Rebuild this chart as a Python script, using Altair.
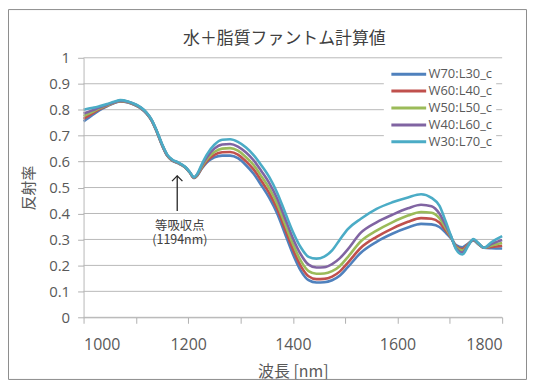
import altair as alt
import pandas as pd

wavelengths = [1000, 1010, 1020, 1030, 1045, 1060, 1070, 1085, 1100, 1110, 1120, 1130, 1140, 1150,
               1160, 1170, 1180, 1194, 1203, 1211, 1218, 1226, 1235, 1250, 1265, 1280, 1295, 1310,
               1325, 1340, 1355, 1370, 1385, 1400, 1415, 1430, 1445, 1460, 1475, 1490, 1505, 1530,
               1560, 1590, 1620, 1645, 1665, 1680, 1692, 1702, 1712, 1724, 1735, 1745, 1755, 1765,
               1780, 1800]

w70_l30 = [0.755, 0.769, 0.784, 0.797, 0.813, 0.827, 0.832, 0.828, 0.816, 0.804, 0.786, 0.758, 0.714, 0.663,
           0.622, 0.603, 0.594, 0.578, 0.558, 0.537, 0.548, 0.573, 0.595, 0.616, 0.623, 0.623, 0.613, 0.587,
           0.553, 0.508, 0.460, 0.400, 0.322, 0.244, 0.180, 0.143, 0.134, 0.135, 0.143, 0.161, 0.193, 0.249,
           0.291, 0.322, 0.346, 0.360, 0.358, 0.348, 0.326, 0.305, 0.278, 0.270, 0.284, 0.296, 0.281, 0.268,
           0.266, 0.265]
w60_l40 = [0.765, 0.777, 0.790, 0.801, 0.815, 0.828, 0.833, 0.829, 0.817, 0.805, 0.787, 0.759, 0.715, 0.664,
           0.623, 0.604, 0.595, 0.578, 0.558, 0.537, 0.549, 0.576, 0.600, 0.626, 0.636, 0.637, 0.627, 0.602,
           0.570, 0.525, 0.478, 0.418, 0.340, 0.263, 0.198, 0.158, 0.147, 0.148, 0.157, 0.177, 0.210, 0.268,
           0.310, 0.342, 0.368, 0.382, 0.380, 0.365, 0.335, 0.308, 0.274, 0.263, 0.282, 0.298, 0.282, 0.268,
           0.271, 0.276]
w50_l50 = [0.775, 0.785, 0.795, 0.805, 0.817, 0.829, 0.834, 0.830, 0.818, 0.806, 0.788, 0.760, 0.716, 0.665,
           0.624, 0.605, 0.596, 0.578, 0.558, 0.538, 0.551, 0.580, 0.607, 0.637, 0.650, 0.652, 0.642, 0.618,
           0.587, 0.543, 0.497, 0.437, 0.360, 0.283, 0.218, 0.178, 0.168, 0.169, 0.178, 0.198, 0.232, 0.293,
           0.334, 0.366, 0.392, 0.406, 0.403, 0.382, 0.345, 0.310, 0.270, 0.257, 0.280, 0.299, 0.283, 0.268,
           0.277, 0.286]
w40_l60 = [0.785, 0.792, 0.800, 0.808, 0.819, 0.830, 0.835, 0.831, 0.819, 0.807, 0.789, 0.761, 0.717, 0.666,
           0.625, 0.606, 0.597, 0.579, 0.559, 0.539, 0.553, 0.585, 0.615, 0.650, 0.666, 0.668, 0.658, 0.636,
           0.605, 0.563, 0.517, 0.458, 0.382, 0.305, 0.243, 0.203, 0.192, 0.193, 0.205, 0.228, 0.262, 0.326,
           0.366, 0.395, 0.420, 0.434, 0.428, 0.400, 0.355, 0.313, 0.266, 0.250, 0.278, 0.300, 0.284, 0.268,
           0.283, 0.298]
w30_l70 = [0.800, 0.805, 0.808, 0.813, 0.822, 0.832, 0.837, 0.832, 0.820, 0.808, 0.790, 0.762, 0.718, 0.668,
           0.627, 0.607, 0.598, 0.580, 0.560, 0.540, 0.555, 0.590, 0.625, 0.665, 0.684, 0.686, 0.676, 0.655,
           0.625, 0.585, 0.540, 0.480, 0.405, 0.330, 0.270, 0.233, 0.226, 0.234, 0.258, 0.300, 0.340, 0.380,
           0.418, 0.443, 0.462, 0.474, 0.460, 0.430, 0.370, 0.315, 0.262, 0.242, 0.275, 0.302, 0.285, 0.268,
           0.290, 0.313]

series_names = ["W70:L30_c", "W60:L40_c", "W50:L50_c", "W40:L60_c", "W30:L70_c"]
series_values = [w70_l30, w60_l40, w50_l50, w40_l60, w30_l70]
series_colors = ["#4F81BD", "#C0504D", "#9BBB59", "#8064A2", "#4BACC6"]

x_ticks = [1000, 1100, 1200, 1300, 1400, 1500, 1600, 1700, 1800]
y_ticks = [0, 0.1, 0.2, 0.3, 0.4, 0.5, 0.6, 0.7, 0.8, 0.9, 1]

chart_title = ["水＋脂質ファントム計算値"]
annot_wl = [1179]
annot_tip = [0.545]
annot_base = [0.41]
annot_text_wl = [1184]
annot_label = ["等吸収点\n(1194nm)"]
annot_label_y = [0.352]

rows = []
for order, (name, vals) in enumerate(zip(series_names, series_values)):
    for wl, v in zip(wavelengths, vals):
        rows.append({"wl": wl, "r": v, "series": name, "order": order})
df = pd.DataFrame(rows)

x_scale = alt.Scale(domain=[1000, 1800], nice=False)
y_scale = alt.Scale(domain=[0, 1], nice=False)

font = "Noto Sans CJK JP"

x_axis = alt.Axis(values=x_ticks, grid=False, tickSize=6, labelPadding=13,
                  labelExpr="datum.value % 200 == 0 ? datum.label : ''",
                  labelFontSize=16, titleFontSize=16, titlePadding=12,
                  domainColor="#b0b0b0", tickColor="#b0b0b0", format="d")
y_axis = alt.Axis(values=y_ticks, grid=False, tickSize=6, zindex=1,
                  labelPadding=8, labelFontSize=15, titleFontSize=15, titlePadding=12,
                  labelOverlap=False, domainColor="#b8b8b8", tickColor="#b0b0b0",
                  labelExpr="format(datum.value, '.1~f')")
x_title = "波長 [nm]"
y_title = "反射率"


def X(field):
    return alt.X(field, scale=x_scale, axis=x_axis, title=x_title)


def Y(field):
    return alt.Y(field, scale=y_scale, axis=y_axis, title=y_title)


# horizontal gridlines at the y tick values
grid_df = pd.DataFrame({"v": y_ticks})
grid = alt.Chart(grid_df).mark_rule(color="#b8b8b8", strokeWidth=1).encode(y=Y("v:Q"))

lines = alt.Chart(df).mark_line(strokeWidth=2.6, interpolate="monotone").encode(
    x=X("wl:Q"),
    y=Y("r:Q"),
    color=alt.Color("series:N", sort=series_names,
                    scale=alt.Scale(domain=series_names, range=series_colors),
                    legend=alt.Legend(title=None, orient="none", legendX=302, legendY=6,
                                      symbolType="M-14,0M-1,0H11", symbolSize=34, symbolStrokeWidth=3,
                                      labelFontSize=13, labelColor="#595959", labelFont="Open Sans",
                                      fillColor="white", padding=4, rowPadding=3,
                                      labelOffset=28)),
    order=alt.Order("order:Q"),
    detail="series:N",
)

ann_df = pd.DataFrame({"wl": annot_wl, "tip": annot_tip, "base": annot_base})
arrow_line = alt.Chart(ann_df).mark_rule(color="#262626", strokeWidth=1.3).encode(
    x=X("wl:Q"), y=Y("tip:Q"), y2="base:Q")
arrow_head = alt.Chart(ann_df).mark_point(shape="M-1,1L0,0L1,1", size=110, filled=False,
                                          color="#262626", strokeWidth=1.3, opacity=1).encode(
    x=X("wl:Q"), y=Y("tip:Q"))

txt_df = pd.DataFrame({"wl": annot_text_wl, "y": annot_label_y, "t": annot_label})
ann_text = alt.Chart(txt_df).mark_text(fontSize=12.5, color="#404040", font=font,
                                       lineBreak="\n", lineHeight=14, baseline="middle").encode(
    x=X("wl:Q"), y=Y("y:Q"), text="t:N")

title_df = pd.DataFrame({"t": chart_title})
title_text = alt.Chart(title_df).mark_text(fontSize=17, color="#404040", font=font).encode(
    x=alt.value(202), y=alt.value(-19), text="t:N")

# outer chart border drawn as four thin rules (no fill)
fx1, fx2, fy1, fy2 = -75.5, 445.5, -48.5, 323.5
frame_style = dict(color="#8c8c8c", strokeWidth=1)
frame = alt.layer(
    alt.Chart(ann_df).mark_rule(**frame_style).encode(x=alt.value(fx1), x2=alt.value(fx2), y=alt.value(fy1)),
    alt.Chart(ann_df).mark_rule(**frame_style).encode(x=alt.value(fx1), x2=alt.value(fx2), y=alt.value(fy2)),
    alt.Chart(ann_df).mark_rule(**frame_style).encode(x=alt.value(fx1), y=alt.value(fy1), y2=alt.value(fy2)),
    alt.Chart(ann_df).mark_rule(**frame_style).encode(x=alt.value(fx2), y=alt.value(fy1), y2=alt.value(fy2)),
)

chart = alt.layer(frame, grid, title_text, lines, arrow_line, arrow_head, ann_text).properties(
    width=421, height=261,
    autosize=alt.AutoSizeParams(type="none"),
    padding={"left": 76, "top": 49, "right": 26, "bottom": 65},
).configure_view(stroke=None).configure_axis(
    labelColor="#595959", titleColor="#595959", labelFont="Open Sans", titleFont=font,
    titleFontWeight="normal"
)

chart.save("out.html", embed_options={"renderer": "svg", "actions": False})
